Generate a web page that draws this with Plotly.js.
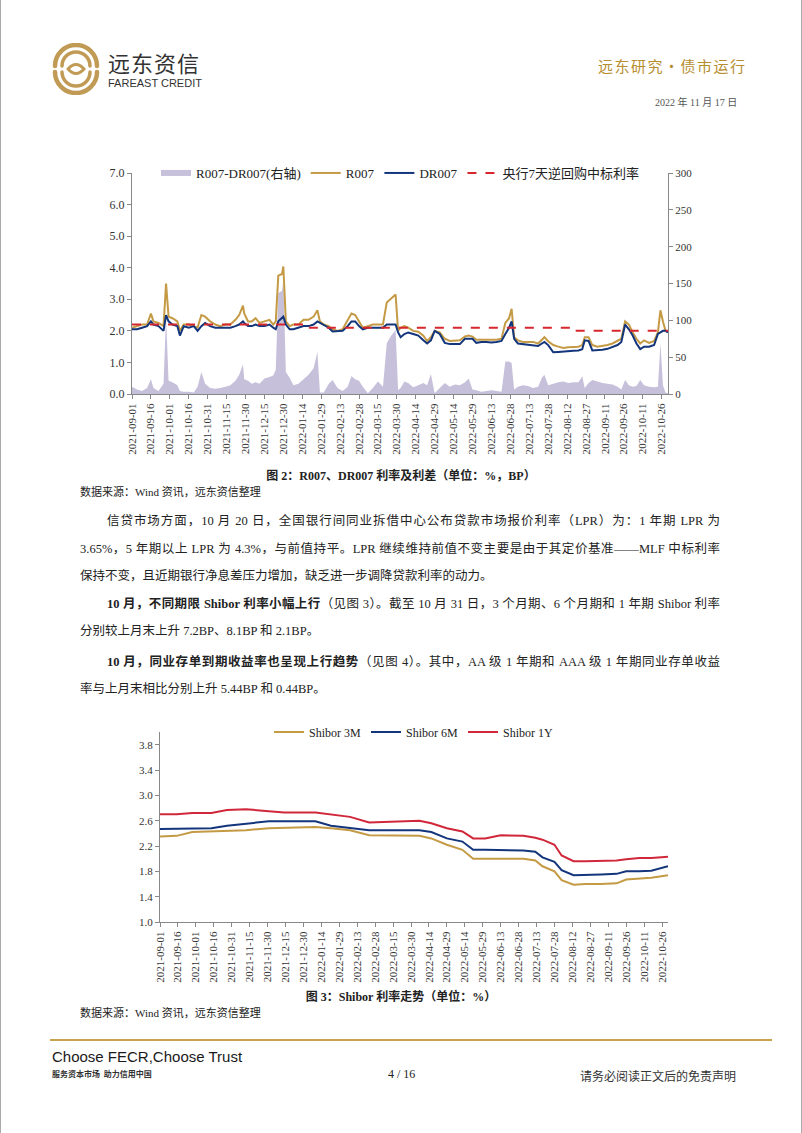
<!DOCTYPE html>
<html>
<head>
<meta charset="utf-8">
<script src="https://cdn.plot.ly/plotly-3.0.1.min.js"></script>
<style>
  body { margin: 0; background: #fff; }
  #page { position: relative; width: 802px; height: 1133px; overflow: hidden; background: #fff;
          font-family: "Liberation Serif", "Noto Sans CJK SC", serif; color: #222; }
  .t { position: absolute; white-space: nowrap; }
  .ln { position: absolute; font-size: 12.5px; line-height: 18px; text-align: justify; text-align-last: justify; }
  .ln b { font-weight: bold; }
  .cap { position: absolute; left: 0; width: 802px; text-align: center; font-size: 12px; font-weight: bold; }
  .src { position: absolute; left: 80px; font-size: 11px; }
  #chart1 { position: absolute; left: 0; top: 140px; width: 802px; height: 320px; }
  #chart2 { position: absolute; left: 0; top: 700px; width: 802px; height: 290px; }
</style>
</head>
<body>
<div id="page">
  <div style="position:absolute;left:0;top:0;width:1px;height:1133px;background:#aaa"></div>
  <div style="position:absolute;right:0;top:0;width:1px;height:1133px;background:#aaa"></div>

  <!-- header -->
  <svg class="t" style="left:50px;top:43px" width="52" height="52" viewBox="0 0 52 52">
    <g fill="none" stroke="#C19B55" stroke-linecap="round">
      <path d="M5 23 A21 21 0 0 1 47 23" stroke-width="4.5"/>
      <path d="M12 23 A14 14 0 0 1 40 23" stroke-width="3.5"/>
      <path d="M47 29 A21 21 0 0 1 5 29" stroke-width="4.5"/>
      <path d="M40 29 A14 14 0 0 1 12 29" stroke-width="3.5"/>
      <path d="M18 26 Q26 17 34 26 Q26 35 18 26" stroke-width="3"/>
    </g>
  </svg>
  <div class="t" style="left:108px;top:51px;font-family:'Noto Sans CJK SC';font-size:22px;line-height:22px;color:#333;letter-spacing:1px">远东资信</div>
  <div class="t" style="left:108px;top:77px;font-family:'Liberation Sans';font-size:11px;line-height:12px;color:#333">FAREAST CREDIT</div>
  <div class="t" style="left:598px;top:55px;font-family:'Noto Sans CJK SC';font-size:15px;color:#B68D2F;letter-spacing:1.5px">远东研究•债市运行</div>
  <div class="t" style="left:655px;top:94px;font-size:10px;color:#555">2022 年 11 月 17 日</div>

  <div id="chart1"></div>
  <div class="cap" style="top:466px">图 2：R007、DR007 利率及利差（单位：%，BP）</div>
  <div class="src" style="top:483px">数据来源：Wind 资讯，远东资信整理</div>

  <!-- body text -->
  <div class="ln" style="left:107px;width:613px;top:512px">信贷市场方面，10 月 20 日，全国银行间同业拆借中心公布贷款市场报价利率（LPR）为：1 年期 LPR 为</div>
  <div class="ln" style="left:80px;width:640px;top:540px">3.65%，5 年期以上 LPR 为 4.3%，与前值持平。LPR 继续维持前值不变主要是由于其定价基准——MLF 中标利率</div>
  <div class="ln" style="left:80px;top:567px;text-align:left;text-align-last:left">保持不变，且近期银行净息差压力增加，缺乏进一步调降贷款利率的动力。</div>
  <div class="ln" style="left:107px;width:613px;top:595px"><b>10 月，不同期限 Shibor 利率小幅上行</b>（见图 3）。截至 10 月 31 日，3 个月期、6 个月期和 1 年期 Shibor 利率</div>
  <div class="ln" style="left:80px;top:622px;text-align:left;text-align-last:left">分别较上月末上升 7.2BP、8.1BP 和 2.1BP。</div>
  <div class="ln" style="left:107px;width:613px;top:653px"><b>10 月，同业存单到期收益率也呈现上行趋势</b>（见图 4）。其中，AA 级 1 年期和 AAA 级 1 年期同业存单收益</div>
  <div class="ln" style="left:80px;top:680px;text-align:left;text-align-last:left">率与上月末相比分别上升 5.44BP 和 0.44BP。</div>

  <div id="chart2"></div>
  <div class="cap" style="top:987px">图 3：Shibor 利率走势（单位：%）</div>
  <div class="src" style="top:1004px">数据来源：Wind 资讯，远东资信整理</div>

  <!-- footer -->
  <div style="position:absolute;left:50px;top:1039px;width:722px;height:2px;background:#C9A44E"></div>
  <div class="t" style="left:52px;top:1048px;font-family:'Liberation Sans';font-size:15px;color:#1a1a1a">Choose FECR,Choose Trust</div>
  <div class="t" style="left:52px;top:1068px;font-family:'Noto Sans CJK SC';font-size:8px;font-weight:bold;color:#333">服务资本市场&nbsp;&nbsp;助力信用中国</div>
  <div class="t" style="left:388px;top:1067px;font-size:12px">4 / 16</div>
  <div class="t" style="left:580px;top:1067px;font-family:'Noto Sans CJK SC';font-size:12px;color:#333">请务必阅读正文后的免责声明</div>
</div>

<script>
// ---- Figure 2: R007 / DR007 and spread ----
var dates1 = [
  '2021-09-01','2021-09-05','2021-09-09','2021-09-13','2021-09-16','2021-09-18','2021-09-22','2021-09-26','2021-09-28','2021-09-30',
  '2021-10-03','2021-10-07','2021-10-09','2021-10-12','2021-10-16','2021-10-20','2021-10-23','2021-10-26','2021-10-29',
  '2021-11-02','2021-11-06','2021-11-10','2021-11-14','2021-11-18','2021-11-22','2021-11-25','2021-11-28','2021-11-29',
  '2021-12-02','2021-12-05','2021-12-08','2021-12-11','2021-12-15','2021-12-19','2021-12-22','2021-12-24','2021-12-26','2021-12-29','2021-12-30',
  '2022-01-01','2022-01-04','2022-01-07','2022-01-11','2022-01-15','2022-01-19','2022-01-23','2022-01-26','2022-01-28','2022-01-31',
  '2022-02-04','2022-02-07','2022-02-11','2022-02-15','2022-02-19','2022-02-22','2022-02-25','2022-02-28',
  '2022-03-03','2022-03-07','2022-03-11','2022-03-15','2022-03-19','2022-03-22','2022-03-25','2022-03-29','2022-03-31',
  '2022-04-02','2022-04-05','2022-04-08','2022-04-12','2022-04-16','2022-04-20','2022-04-23','2022-04-26','2022-04-29',
  '2022-05-03','2022-05-07','2022-05-11','2022-05-15','2022-05-19','2022-05-23','2022-05-26','2022-05-29',
  '2022-06-01','2022-06-05','2022-06-09','2022-06-13','2022-06-17','2022-06-21','2022-06-24','2022-06-27','2022-06-29',
  '2022-07-01','2022-07-04','2022-07-08','2022-07-12','2022-07-16','2022-07-20','2022-07-23','2022-07-25','2022-07-28',
  '2022-08-01','2022-08-05','2022-08-09','2022-08-13','2022-08-17','2022-08-21','2022-08-24','2022-08-26','2022-08-29',
  '2022-09-01','2022-09-05','2022-09-09','2022-09-13','2022-09-17','2022-09-21','2022-09-24','2022-09-27','2022-09-30',
  '2022-10-03','2022-10-06','2022-10-09','2022-10-12','2022-10-16','2022-10-20','2022-10-23','2022-10-25','2022-10-27','2022-10-29','2022-10-31'
];
var r007 = [
  2.10,2.15,2.20,2.20,2.55,2.30,2.25,2.15,3.50,2.45,
  2.40,2.30,2.00,2.20,2.20,2.15,2.10,2.50,2.45,
  2.30,2.20,2.15,2.20,2.20,2.35,2.50,2.80,2.55,
  2.30,2.30,2.40,2.25,2.30,2.35,2.20,2.30,3.75,3.80,4.04,
  2.30,2.15,2.20,2.20,2.35,2.35,2.45,2.65,2.30,2.20,
  2.15,2.05,2.00,2.05,2.35,2.55,2.50,2.30,
  2.10,2.15,2.20,2.20,2.20,2.90,3.00,3.15,2.00,
  2.10,2.15,2.10,2.00,1.97,1.85,1.68,1.80,2.00,
  1.95,1.75,1.68,1.70,1.70,1.82,1.85,1.82,
  1.72,1.72,1.72,1.70,1.72,1.75,2.25,2.40,2.70,
  1.80,1.70,1.65,1.65,1.65,1.60,1.72,1.80,1.67,
  1.55,1.50,1.46,1.48,1.50,1.50,1.55,1.80,1.80,
  1.55,1.50,1.52,1.55,1.60,1.70,1.75,2.30,2.20,
  1.95,1.75,1.60,1.70,1.62,1.68,1.95,2.65,2.30,2.00,1.97
];
var dr007 = [
  2.05,2.05,2.10,2.15,2.30,2.20,2.15,2.00,2.50,2.30,
  2.20,2.15,1.85,2.15,2.10,2.15,2.00,2.15,2.25,
  2.15,2.10,2.10,2.10,2.10,2.15,2.20,2.30,2.25,
  2.15,2.15,2.20,2.15,2.15,2.20,2.10,2.05,2.30,2.40,2.45,
  2.20,2.05,2.05,2.10,2.15,2.15,2.20,2.30,2.25,2.20,
  2.10,1.98,1.98,2.00,2.15,2.30,2.30,2.15,
  2.05,2.10,2.10,2.10,2.10,2.20,2.20,2.20,1.95,
  1.80,1.90,1.95,1.90,1.85,1.70,1.60,1.70,2.00,
  1.90,1.62,1.58,1.58,1.58,1.75,1.75,1.75,
  1.62,1.65,1.65,1.63,1.65,1.68,1.90,2.10,2.30,
  1.75,1.60,1.58,1.58,1.55,1.52,1.60,1.65,1.55,
  1.32,1.33,1.35,1.35,1.37,1.38,1.42,1.70,1.68,
  1.38,1.38,1.40,1.43,1.48,1.55,1.65,2.20,2.05,
  1.85,1.60,1.42,1.50,1.50,1.55,1.90,1.95,2.00,2.00,1.95
];
var spreadBP = [
  10,6,4,8,20,8,4,14,105,18,
  16,12,4,3,3,2,10,30,14,
  8,7,8,10,12,18,26,40,20,
  18,14,16,14,21,23,25,33,137,140,155,
  30,22,12,14,20,26,35,57,2,2,
  14,19,8,4,10,24,20,18,
  10,1,8,17,10,69,78,87,5,
  8,17,15,9,12,15,12,27,1,
  8,15,10,13,12,16,21,6,
  5,3,4,5,4,3,44,44,42,
  6,10,12,11,8,10,22,26,12,
  14,16,17,15,16,16,24,8,15,
  19,17,15,14,13,10,6,19,12,
  10,11,19,12,10,9,10,69,12,2,1
];
var policyDates = ['2021-09-01','2022-01-17','2022-08-15','2022-10-31'];
var policyRate = [2.2, 2.1, 2.0, 2.0];

// ---- Figure 3: Shibor ----
var dates2 = [
  '2021-09-01','2021-09-15','2021-09-28','2021-10-14','2021-10-27','2021-11-12','2021-12-01','2021-12-14',
  '2022-01-09','2022-01-22','2022-02-07','2022-02-23','2022-03-21','2022-04-06','2022-04-16','2022-04-29',
  '2022-05-12','2022-05-21','2022-05-31','2022-06-13','2022-07-02','2022-07-12','2022-07-18','2022-07-28',
  '2022-08-03','2022-08-13','2022-08-23','2022-09-05','2022-09-18','2022-09-26','2022-10-07','2022-10-17','2022-10-31'
];
var shibor3M = [
  2.35,2.36,2.42,2.43,2.44,2.45,2.48,2.49,
  2.50,2.48,2.45,2.37,2.36,2.36,2.32,2.22,
  2.14,2.00,2.00,2.00,2.00,1.97,1.88,1.80,
  1.66,1.59,1.60,1.60,1.61,1.67,1.68,1.70,1.74
];
var shibor6M = [
  2.47,2.47,2.48,2.48,2.52,2.55,2.59,2.59,
  2.59,2.52,2.49,2.45,2.45,2.45,2.42,2.32,
  2.27,2.14,2.14,2.14,2.13,2.11,2.02,1.95,
  1.82,1.74,1.74,1.75,1.76,1.80,1.80,1.81,1.88
];
var shibor1Y = [
  2.70,2.70,2.72,2.72,2.77,2.78,2.75,2.73,
  2.73,2.70,2.66,2.57,2.59,2.60,2.56,2.48,
  2.43,2.32,2.32,2.37,2.36,2.33,2.30,2.22,
  2.05,1.96,1.96,1.97,1.97,1.99,2.01,2.01,2.03
];

var serif = 'Liberation Serif, Noto Sans CJK SC, serif';
var DAY = 86400000;

function dateAxis() {
  return {
    type: 'date', range: ['2021-09-01', '2022-10-31'],
    tick0: '2021-09-01', dtick: 15 * DAY, tickformat: '%Y-%m-%d', tickangle: -90,
    ticks: 'outside', ticklen: 4, tickcolor: '#888', showline: true, linecolor: '#888', linewidth: 1,
    showgrid: false, zeroline: false, tickfont: { family: serif, size: 11, color: '#333' }
  };
}

var traces1 = [
  { x: dates1, y: spreadBP, type: 'scatter', mode: 'none', fill: 'tozeroy', fillcolor: '#C7C0DB',
    name: 'R007-DR007(右轴)', yaxis: 'y' },
  { x: dates1, y: r007, type: 'scatter', mode: 'lines', line: { color: '#C49A45', width: 2 },
    name: 'R007', yaxis: 'y2' },
  { x: dates1, y: dr007, type: 'scatter', mode: 'lines', line: { color: '#13357B', width: 2 },
    name: 'DR007', yaxis: 'y2' },
  { x: policyDates, y: policyRate, type: 'scatter', mode: 'lines',
    line: { color: '#D7262E', width: 2, dash: 'dash', shape: 'hv' },
    name: '央行7天逆回购中标利率', yaxis: 'y2' }
];

var layout1 = {
  width: 802, height: 320,
  margin: { l: 132, r: 134, t: 33, b: 66 },
  paper_bgcolor: 'rgba(0,0,0,0)', plot_bgcolor: 'rgba(0,0,0,0)',
  showlegend: true,
  legend: { orientation: 'h', x: 0.5, xanchor: 'center', y: 1.0, yanchor: 'middle',
            font: { family: serif, size: 13, color: '#222' }, bgcolor: 'rgba(0,0,0,0)',
            itemwidth: 30 },
  xaxis: dateAxis(),
  yaxis: { side: 'right', range: [0, 300], dtick: 50, showgrid: false, zeroline: false,
           showline: true, linecolor: '#888', ticks: 'outside', ticklen: 4, tickcolor: '#888',
           tickfont: { family: serif, size: 11, color: '#333' } },
  yaxis2: { side: 'left', overlaying: 'y', range: [0, 7], dtick: 1, tickformat: '.1f',
            showgrid: false, zeroline: false, showline: true, linecolor: '#888',
            ticks: 'outside', ticklen: 4, tickcolor: '#888',
            tickfont: { family: serif, size: 12, color: '#333' } }
};

Plotly.newPlot('chart1', traces1, layout1, { displayModeBar: false, staticPlot: true });

var traces2 = [
  { x: dates2, y: shibor3M, type: 'scatter', mode: 'lines', line: { color: '#C49A45', width: 2 }, name: 'Shibor 3M' },
  { x: dates2, y: shibor6M, type: 'scatter', mode: 'lines', line: { color: '#13357B', width: 2 }, name: 'Shibor 6M' },
  { x: dates2, y: shibor1Y, type: 'scatter', mode: 'lines', line: { color: '#D0283A', width: 2 }, name: 'Shibor 1Y' }
];

var layout2 = {
  width: 802, height: 290,
  margin: { l: 160, r: 134, t: 32, b: 68 },
  paper_bgcolor: 'rgba(0,0,0,0)', plot_bgcolor: 'rgba(0,0,0,0)',
  showlegend: true,
  legend: { orientation: 'h', x: 0.5, xanchor: 'center', y: 1.0, yanchor: 'middle',
            font: { family: serif, size: 12, color: '#222' }, bgcolor: 'rgba(0,0,0,0)', itemwidth: 30 },
  xaxis: dateAxis(),
  yaxis: { range: [1.0, 4.0], tick0: 1.0, dtick: 0.4, tickformat: '.1f', showgrid: false, zeroline: false,
           showline: true, linecolor: '#888', ticks: 'outside', ticklen: 4, tickcolor: '#888',
           tickfont: { family: serif, size: 11, color: '#333' } }
};

Plotly.newPlot('chart2', traces2, layout2, { displayModeBar: false, staticPlot: true });
</script>
</body>
</html>
